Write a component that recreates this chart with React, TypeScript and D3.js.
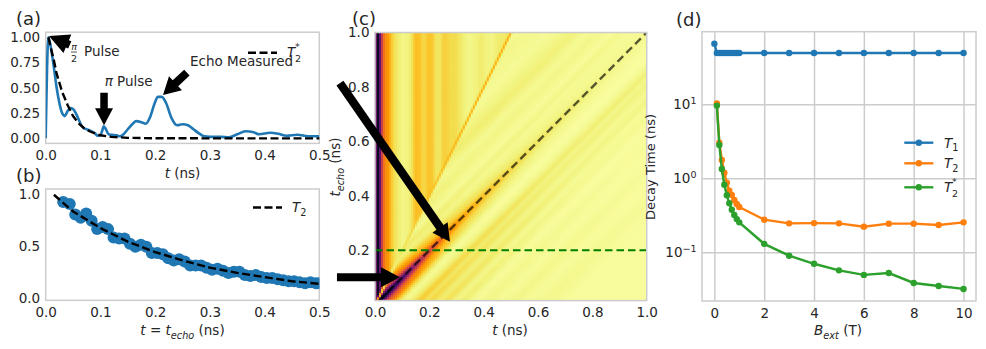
import React, { useEffect, useRef } from "react";
import * as d3 from "d3";

const BLUE = "#1f77b4";
const ORANGE = "#ff7f0e";
const GREEN = "#2ca02c";
const INK = "#262626";
const FRAME = "#cccccc";
const FONT = "'DejaVu Sans', sans-serif";
const TEXT_SIZE = 13.5;

// (a) echo trace at t_echo = 0.2
const traceT = [0, 0.005, 0.01, 0.015, 0.02, 0.025, 0.03, 0.035, 0.04, 0.045, 0.05, 0.055, 0.06, 0.065, 0.07, 0.08, 0.09, 0.095, 0.1, 0.103, 0.106, 0.11, 0.115, 0.12, 0.13, 0.135, 0.14, 0.15, 0.16, 0.165, 0.175, 0.183, 0.19, 0.2, 0.205, 0.212, 0.22, 0.23, 0.24, 0.25, 0.26, 0.27, 0.28, 0.29, 0.3, 0.32, 0.335, 0.35, 0.365, 0.38, 0.39, 0.41, 0.425, 0.44, 0.46, 0.48, 0.5];
const traceV = [0, 1.0, 0.88, 0.7, 0.5, 0.35, 0.25, 0.22, 0.27, 0.3, 0.29, 0.25, 0.19, 0.13, 0.1, 0.08, 0.05, 0.025, 0.03, 0.07, 0.12, 0.09, 0.04, 0.035, 0.03, 0.02, 0.03, 0.09, 0.15, 0.17, 0.16, 0.145, 0.2, 0.36, 0.41, 0.41, 0.35, 0.2, 0.13, 0.14, 0.13, 0.09, 0.05, 0.02, 0.015, 0.015, 0.01, 0.04, 0.07, 0.06, 0.04, 0.055, 0.045, 0.025, 0.035, 0.02, 0.02];
const t2StarT = [0.005, 0.01, 0.015, 0.02, 0.03, 0.04, 0.05, 0.06, 0.07, 0.08, 0.1, 0.12, 0.15, 0.2, 0.3, 0.5];
const t2StarV = [1, 0.88, 0.77, 0.64, 0.46, 0.33, 0.22, 0.15, 0.1, 0.07, 0.03, 0.015, 0.005, 0.001, 0, 0];

// (b) echo peak vs t_echo
const peakT = [0.032, 0.044, 0.054, 0.064, 0.074, 0.084, 0.094, 0.104, 0.114, 0.124, 0.134, 0.144, 0.154, 0.164, 0.174, 0.184, 0.194, 0.204, 0.214, 0.224, 0.234, 0.244, 0.254, 0.264, 0.274, 0.284, 0.294, 0.304, 0.314, 0.324, 0.334, 0.344, 0.354, 0.364, 0.374, 0.384, 0.394, 0.404, 0.414, 0.424, 0.434, 0.444, 0.454, 0.464, 0.474, 0.484, 0.494, 0.5];
const peakV = [0.92, 0.9, 0.8, 0.77, 0.81, 0.74, 0.66, 0.68, 0.66, 0.58, 0.57, 0.57, 0.52, 0.49, 0.51, 0.49, 0.43, 0.43, 0.42, 0.38, 0.36, 0.37, 0.35, 0.31, 0.31, 0.31, 0.29, 0.27, 0.28, 0.26, 0.24, 0.25, 0.25, 0.22, 0.21, 0.22, 0.2, 0.19, 0.19, 0.18, 0.17, 0.16, 0.16, 0.15, 0.14, 0.15, 0.14, 0.14];
const t2FitT = [0.015, 0.05, 0.1, 0.15, 0.2, 0.25, 0.3, 0.35, 0.4, 0.45, 0.5];
const t2FitV = [0.99, 0.83, 0.67, 0.54, 0.44, 0.36, 0.29, 0.24, 0.2, 0.16, 0.135];

// (c) map is rebuilt from profiles read along the stripes
const fidT = [0, 0.003, 0.007, 0.014, 0.02, 0.026, 0.032, 0.04, 0.05, 0.058, 0.066, 0.08, 0.09, 0.1, 0.11, 0.125, 0.135, 0.15, 0.165, 0.175, 0.185, 0.195, 0.21, 0.225, 0.24, 0.25, 0.265, 0.28, 0.295, 0.31, 0.33, 0.35, 0.37, 0.39, 0.41, 0.43, 0.45, 0.47, 0.5];
const fidZ = [0.1, 0.6, 0.95, 0.92, 0.65, 0.45, 0.32, 0.25, 0.22, 0.15, 0.1, 0.06, 0.05, 0.03, 0.035, 0.045, 0.07, 0.15, 0.14, 0.1, 0.1, 0.14, 0.13, 0.07, 0.07, 0.11, 0.11, 0.085, 0.09, 0.07, 0.04, 0.03, 0.04, 0.055, 0.04, 0.035, 0.05, 0.06, 0.07];
const coreD = [-0.08, -0.06, -0.05, -0.04, -0.03, -0.02, -0.01, 0, 0.01, 0.02, 0.03, 0.04, 0.05, 0.06, 0.08, 0.1];
const coreZ = [0, 0.12, 0.22, 0.3, 0.38, 0.55, 0.8, 1, 0.8, 0.55, 0.38, 0.3, 0.24, 0.13, 0.03, 0];
const coreTau = [0, 0.05, 0.1, 0.15, 0.2, 0.25, 0.3, 0.4, 0.5, 0.6, 0.8, 1];
const coreFade = [1, 0.95, 0.8, 0.6, 0.42, 0.3, 0.22, 0.14, 0.09, 0.06, 0.03, 0.015];
const rippleD = [-0.5, -0.45, -0.4, -0.36, -0.32, -0.27, -0.22, -0.18, -0.13, -0.1, -0.07, 0, 0.09, 0.12, 0.15, 0.17, 0.19, 0.22, 0.25, 0.28, 0.31, 0.35, 0.4, 0.45, 0.5, 0.55, 0.62, 0.7, 0.8, 1];
const rippleZ = [0.05, 0.08, 0.06, 0.04, 0.08, 0.13, 0.05, 0.08, 0.03, 0.08, 0.04, 0.02, 0.01, 0.05, 0.13, 0.07, 0.1, 0.05, 0.08, 0.03, 0.05, 0.012, 0.03, 0.012, 0.03, 0.012, 0.025, 0.008, 0.008, 0.004];
const rippleTau = [0, 0.2, 0.5, 1];
const rippleFade = [1, 0.7, 0.4, 0.3];
const pulseTau = [0, 0.1, 0.2, 0.35, 0.6, 1];
const pulseZ = [0, 0.005, 0.08, 0.15, 0.2, 0.22];
const MAP_FLOOR = 0.004;

// (d) decay times against field
const fieldT1 = [0, 0.1, 0.2, 0.3, 0.4, 0.5, 0.6, 0.7, 0.8, 0.9, 1, 2, 3, 4, 5, 6, 7, 8, 9, 10];
const t1Values = [66, 49.3, 49.3, 49.3, 49.3, 49.3, 49.3, 49.3, 49.3, 49.3, 49.3, 49.3, 49.3, 49.3, 49.3, 49.3, 49.3, 49.3, 49.3, 49.3];
const fieldT2 = [0.1, 0.2, 0.3, 0.4, 0.5, 0.6, 0.7, 0.8, 0.9, 1, 2, 3, 4, 5, 6, 7, 8, 9, 10];
const t2Values = [10.3, 3.03, 1.77, 1.19, 0.87, 0.68, 0.595, 0.51, 0.45, 0.41, 0.276, 0.246, 0.248, 0.246, 0.222, 0.244, 0.244, 0.234, 0.254];
const t2StarValues = [9.6, 2.82, 1.34, 0.82, 0.59, 0.46, 0.376, 0.32, 0.281, 0.254, 0.13, 0.09, 0.07, 0.057, 0.0495, 0.0525, 0.0385, 0.035, 0.032];

const ticksA = [0, 0.1, 0.2, 0.3, 0.4, 0.5];
const ticksAy = [0, 0.25, 0.5, 0.75, 1];
const ticksBy = [0, 0.5, 1];
const ticksC = [0, 0.2, 0.4, 0.6, 0.8, 1];
const ticksCy = [0.2, 0.4, 0.6, 0.8, 1];
const ticksD = [0, 2, 4, 6, 8, 10];
const ticksDy = [0.1, 1, 10];

const MAP_CELLS_X = 136;
const MAP_CELLS_Y = 134;

type Part = { s: string; i?: boolean; sub?: boolean; sup?: boolean };

function mathText(g: any, x: number, y: number, parts: Part[], anchor = "start", size = TEXT_SIZE) {
  const el = g.append("text").attr("x", x).attr("y", y).attr("text-anchor", anchor)
    .attr("font-size", size).attr("fill", INK);
  let shift = 0;
  parts.forEach((p) => {
    const target = p.sub ? size * 0.27 : p.sup ? -size * 0.42 : 0;
    el.append("tspan")
      .attr("dy", target - shift)
      .attr("font-style", p.i ? "italic" : "normal")
      .attr("font-size", p.sub || p.sup ? size * 0.72 : size)
      .text(p.s);
    shift = target;
  });
  return el;
}

function frame(g: any, x0: number, x1: number, y0: number, y1: number) {
  g.append("rect").attr("x", x0).attr("y", y1).attr("width", x1 - x0).attr("height", y0 - y1)
    .attr("fill", "none").attr("stroke", FRAME).attr("stroke-width", 1.5);
}

function styleAxis(sel: any, grid = false) {
  sel.select(".domain").remove();
  sel.selectAll("line").attr("stroke", grid ? FRAME : "none").attr("stroke-width", 1.5);
  sel.selectAll("text").attr("fill", INK).attr("font-size", TEXT_SIZE).attr("font-family", FONT);
}

function drawAxes(g: any, x: any, y: any, xTicks: number[], yTicks: number[], fx: string, fy: string) {
  const [y0] = y.range();
  const [x0] = x.range();
  g.append("g").attr("transform", `translate(0,${y0})`)
    .call(d3.axisBottom(x).tickValues(xTicks).tickSize(0).tickPadding(7).tickFormat(d3.format(fx) as any))
    .call(styleAxis);
  g.append("g").attr("transform", `translate(${x0},0)`)
    .call(d3.axisLeft(y).tickValues(yTicks).tickSize(0).tickPadding(5.5).tickFormat(d3.format(fy) as any))
    .call(styleAxis);
}

// tail and tip are already in pixels, taken through the panel's scales
function blockArrow(g: any, tail: number[], tip: number[], shaft = 8.5, headW = 18.5, headL = 17.5) {
  const dx = tip[0] - tail[0];
  const dy = tip[1] - tail[1];
  const len = Math.hypot(dx, dy);
  const ux = dx / len;
  const uy = dy / len;
  const px = -uy;
  const py = ux;
  const bx = tip[0] - ux * headL;
  const by = tip[1] - uy * headL;
  const pts = [
    [tail[0] + (px * shaft) / 2, tail[1] + (py * shaft) / 2],
    [bx + (px * shaft) / 2, by + (py * shaft) / 2],
    [bx + (px * headW) / 2, by + (py * headW) / 2],
    tip,
    [bx - (px * headW) / 2, by - (py * headW) / 2],
    [bx - (px * shaft) / 2, by - (py * shaft) / 2],
    [tail[0] - (px * shaft) / 2, tail[1] - (py * shaft) / 2],
  ];
  g.append("polygon").attr("points", pts.map((p) => p.join(",")).join(" ")).attr("fill", "#000");
}

export default function App() {
  const ref = useRef<SVGSVGElement>(null);

  useEffect(() => {
    const svg = d3.select(ref.current);
    svg.selectAll("*").remove();
    svg.attr("font-family", FONT);
    const defs = svg.append("defs");
    defs.append("filter").attr("id", "soften").attr("x", "-2%").attr("y", "-2%").attr("width", "104%").attr("height", "104%")
      .append("feGaussianBlur").attr("stdDeviation", 0.7);

    // ---- (a)
    const a = svg.append("g");
    const xA = d3.scaleLinear().domain([0, 0.5]).range([45.7, 319.3]);
    const yA = d3.scaleLinear().domain([-0.05, 1.05]).range([143.4, 32.2]);
    defs.append("clipPath").attr("id", "clipA").append("rect").attr("x", 45.7).attr("y", 32.2).attr("width", 273.6).attr("height", 111.2);
    frame(a, 45.7, 319.3, 143.4, 32.2);
    drawAxes(a, xA, yA, ticksA, ticksAy, ".1f", ".2f");
    const lineA = d3.line<number>().x((_, i) => xA(traceT[i])).y((d) => yA(d)).curve(d3.curveMonotoneX);
    a.append("path").attr("d", lineA(traceV)).attr("fill", "none").attr("stroke", BLUE).attr("stroke-width", 2.6).attr("clip-path", "url(#clipA)");
    const lineStar = d3.line<number>().x((_, i) => xA(t2StarT[i])).y((d) => yA(d));
    a.append("path").attr("d", lineStar(t2StarV)).attr("fill", "none").attr("stroke", "#000").attr("stroke-width", 2.4).attr("stroke-dasharray", "8,3.5");
    mathText(a, 182.5, 178, [{ s: "t", i: true }, { s: " (ns)" }], "middle");
    a.append("line").attr("x1", 248).attr("x2", 277).attr("y1", 52.7).attr("y2", 52.7).attr("stroke", "#000").attr("stroke-width", 2.4).attr("stroke-dasharray", "8,3.5");
    mathText(a, 287, 57, [{ s: "T", i: true }]);
    mathText(a, 295, 62, [{ s: "2" }], "start", 9.5);
    mathText(a, 295, 50, [{ s: "*" }], "start", 9.5);
    a.append("text").attr("x", 190).attr("y", 65.7).attr("font-size", TEXT_SIZE).attr("fill", INK).text("Echo Measured");
    mathText(a, 104.7, 86, [{ s: "π", i: true }, { s: " Pulse" }]);
    a.append("text").attr("x", 84).attr("y", 56).attr("font-size", TEXT_SIZE).attr("fill", INK).text("Pulse");
    a.append("text").attr("x", 74).attr("y", 49.5).attr("font-size", 9.5).attr("font-style", "italic").attr("text-anchor", "middle").attr("fill", INK).text("π");
    a.append("line").attr("x1", 71).attr("x2", 77).attr("y1", 52).attr("y2", 52).attr("stroke", INK).attr("stroke-width", 0.8);
    a.append("text").attr("x", 74).attr("y", 62).attr("font-size", 9.5).attr("text-anchor", "middle").attr("fill", INK).text("2");
    blockArrow(a, [xA(0.044), yA(0.925)], [xA(0.006), yA(1.013)], 8, 20, 20);
    blockArrow(a, [xA(0.1066), yA(0.45)], [xA(0.1066), yA(0.13)], 7.5, 18, 17);
    blockArrow(a, [xA(0.258), yA(0.65)], [xA(0.2144), yA(0.43)], 8, 19, 17);

    // ---- (b)
    const b = svg.append("g");
    const xB = d3.scaleLinear().domain([0, 0.5]).range([45.7, 319.3]);
    const yB = d3.scaleLinear().domain([-0.023, 1.045]).range([300.3, 189]);
    defs.append("clipPath").attr("id", "clipB").append("rect").attr("x", 45.7).attr("y", 189).attr("width", 273.6).attr("height", 111.3);
    frame(b, 45.7, 319.3, 300.3, 189);
    drawAxes(b, xB, yB, ticksA, ticksBy, ".1f", ".1f");
    b.append("g").attr("clip-path", "url(#clipB)").selectAll("circle").data(peakV).join("circle")
      .attr("cx", (_, i) => xB(peakT[i])).attr("cy", (d) => yB(d)).attr("r", 6).attr("fill", BLUE);
    const lineFit = d3.line<number>().x((_, i) => xB(t2FitT[i])).y((d) => yB(d));
    b.append("path").attr("d", lineFit(t2FitV)).attr("fill", "none").attr("stroke", "#000").attr("stroke-width", 2.4).attr("stroke-dasharray", "8,3.5");
    b.append("line").attr("x1", 253).attr("x2", 282).attr("y1", 207.5).attr("y2", 207.5).attr("stroke", "#000").attr("stroke-width", 2.4).attr("stroke-dasharray", "8,3.5");
    mathText(b, 292, 212, [{ s: "T", i: true }, { s: "2", sub: true }]);
    mathText(b, 182.5, 335, [{ s: "t", i: true }, { s: " = " }, { s: "t", i: true }, { s: "echo", i: true, sub: true }, { s: " (ns)" }], "middle");

    // ---- (c)
    const c = svg.append("g");
    const xC = d3.scaleLinear().domain([0, 1]).range([375, 646.7]);
    const yC = d3.scaleLinear().domain([0.015, 1]).range([300.6, 32.5]);
    const colBand = d3.scaleBand<number>().domain(d3.range(-1, MAP_CELLS_X + 1)).range([xC(-1 / MAP_CELLS_X), xC(1 + 1 / MAP_CELLS_X)]);
    const rowBand = d3.scaleBand<number>().domain(d3.range(-1, MAP_CELLS_Y + 1)).range([yC(0.015 - 0.985 / MAP_CELLS_Y), yC(1 + 0.985 / MAP_CELLS_Y)]);
    const fid = d3.scaleLinear().domain(fidT).range(fidZ).clamp(true);
    const core = d3.scaleLinear().domain(coreD).range(coreZ).clamp(true);
    const coreAt = d3.scaleLinear().domain(coreTau).range(coreFade).clamp(true);
    const ripple = d3.scaleLinear().domain(rippleD).range(rippleZ).clamp(true);
    const rippleAt = d3.scaleLinear().domain(rippleTau).range(rippleFade).clamp(true);
    const pulse = d3.scaleLinear().domain(pulseTau).range(pulseZ).clamp(true);
    const pulseWeight = d3.scaleLinear().domain([-0.007, 0, 0.007]).range([0, 1, 0]).clamp(true);
    const color = (z: number) => d3.interpolateInferno(1 - Math.min(0.99, z));

    const cells: { col: number; row: number; z: number }[] = [];
    colBand.domain().forEach((col) => {
      rowBand.domain().forEach((row) => {
        const t = xC.invert((colBand(col) as number) + colBand.bandwidth() / 2);
        const tau = yC.invert((rowBand(row) as number) + rowBand.bandwidth() / 2);
        const off = t - tau;
        let z = t < tau / 2 ? fid(t) : MAP_FLOOR + core(off) * coreAt(tau) + ripple(off) * rippleAt(tau);
        const w = pulseWeight(t - tau / 2);
        z = z * (1 - w) + pulse(tau) * w;
        cells.push({ col, row, z });
      });
    });
    defs.append("clipPath").attr("id", "clipC").append("rect").attr("x", 375).attr("y", 32.5).attr("width", 271.7).attr("height", 268.1);
    c.append("g").attr("clip-path", "url(#clipC)").append("g").attr("filter", "url(#soften)")
      .selectAll("rect").data(cells).join("rect")
      .attr("x", (d) => colBand(d.col) as number).attr("y", (d) => rowBand(d.row) as number)
      .attr("width", colBand.bandwidth() + 0.5).attr("height", rowBand.bandwidth() + 0.5)
      .attr("fill", (d) => color(d.z));
    c.append("line").attr("x1", xC(0.015)).attr("y1", yC(0.015)).attr("x2", xC(1)).attr("y2", yC(1))
      .attr("stroke", "#000").attr("stroke-opacity", 0.65).attr("stroke-width", 2.4).attr("stroke-dasharray", "8,4.5");
    c.append("line").attr("x1", xC(0)).attr("y1", yC(0.2)).attr("x2", xC(1)).attr("y2", yC(0.2))
      .attr("stroke", "#008000").attr("stroke-width", 2.2).attr("stroke-dasharray", "7.5,4");
    frame(c, 375, 646.7, 300.6, 32.5);
    drawAxes(c, xC, yC, ticksC, ticksCy, ".1f", ".1f");
    c.append("text").attr("transform", "translate(340,167) rotate(-90)").call((s: any) => {
      s.attr("text-anchor", "middle").attr("font-size", TEXT_SIZE).attr("fill", INK);
      s.append("tspan").attr("font-style", "italic").text("t");
      s.append("tspan").attr("font-style", "italic").attr("font-size", 9.6).attr("dy", 3.5).text("echo");
      s.append("tspan").attr("dy", -3.5).text(" (ns)");
    });
    mathText(c, 510, 335, [{ s: "t", i: true }, { s: " (ns)" }], "middle");
    blockArrow(c, [xC(-0.129), yC(0.814)], [xC(0.276), yC(0.231)]);
    blockArrow(c, [xC(-0.14), yC(0.101)], [xC(0.092), yC(0.101)], 8, 20, 19);

    // ---- (d)
    const d = svg.append("g");
    const xD = d3.scaleLinear().domain([-0.5, 10.5]).range([701.9, 976]);
    const yD = d3.scaleLog().domain([Math.pow(10, -1.658), Math.pow(10, 1.981)]).range([301, 31.7]);
    d.append("g").attr("transform", "translate(0,301)")
      .call(d3.axisBottom(xD).tickValues(ticksD).tickSize(-269.3).tickPadding(7).tickFormat(d3.format("d") as any))
      .call((s: any) => styleAxis(s, true));
    const yAxisD = d.append("g").attr("transform", "translate(702,0)")
      .call(d3.axisLeft(yD).tickValues(ticksDy).tickSize(-274).tickPadding(5.5).tickFormat(() => "") as any)
      .call((s: any) => styleAxis(s, true));
    yAxisD.selectAll(".tick text").each(function (v: any) {
      const el = d3.select(this as any);
      el.append("tspan").text("10");
      el.append("tspan").attr("dy", -5.5).attr("font-size", 9.5).text(String(Math.round(Math.log10(v))).replace("-", "\u2212"));
    });
    frame(d, 702, 976, 301, 31.7);
    const series: [number[], number[], string][] = [
      [fieldT1, t1Values, BLUE],
      [fieldT2, t2Values, ORANGE],
      [fieldT2, t2StarValues, GREEN],
    ];
    series.forEach(([xs, ys, col]) => {
      const ln = d3.line<number>().x((_, i) => xD(xs[i])).y((v) => yD(v));
      d.append("path").attr("d", ln(ys)).attr("fill", "none").attr("stroke", col).attr("stroke-width", 2.4);
      d.append("g").selectAll("circle").data(ys).join("circle")
        .attr("cx", (_, i) => xD(xs[i])).attr("cy", (v) => yD(v)).attr("r", 3.2).attr("fill", col);
    });
    const legendY = [142.7, 163.3, 187.3];
    series.forEach(([, , col], i) => {
      d.append("line").attr("x1", 904.3).attr("x2", 933.3).attr("y1", legendY[i]).attr("y2", legendY[i]).attr("stroke", col).attr("stroke-width", 2.4);
      d.append("circle").attr("cx", 918.8).attr("cy", legendY[i]).attr("r", 3.2).attr("fill", col);
    });
    mathText(d, 944, 147.5, [{ s: "T", i: true }, { s: "1", sub: true }]);
    mathText(d, 944, 168, [{ s: "T", i: true }, { s: "2", sub: true }]);
    mathText(d, 944, 192, [{ s: "T", i: true }]);
    mathText(d, 952, 197, [{ s: "2" }], "start", 9.5);
    mathText(d, 952, 185, [{ s: "*" }], "start", 9.5);
    mathText(d, 838, 335, [{ s: "B", i: true }, { s: "ext", i: true, sub: true }, { s: " (T)" }], "middle");
    d.append("text").attr("transform", "translate(655,167) rotate(-90)").attr("text-anchor", "middle").attr("font-size", 13).attr("fill", INK).text("Decay Time (ns)");

    // panel letters
    const letters: [string, number, number][] = [["(a)", 16, 25], ["(b)", 16, 182], ["(c)", 352, 25], ["(d)", 676, 26]];
    letters.forEach(([s, x, y]) => {
      svg.append("text").attr("x", x).attr("y", y).attr("font-size", 18).attr("fill", INK).text(s);
    });
  }, []);

  return <svg ref={ref} width={986} height={349} style={{ position: "absolute", left: 0, top: 0, background: "#fff" }} />;
}
